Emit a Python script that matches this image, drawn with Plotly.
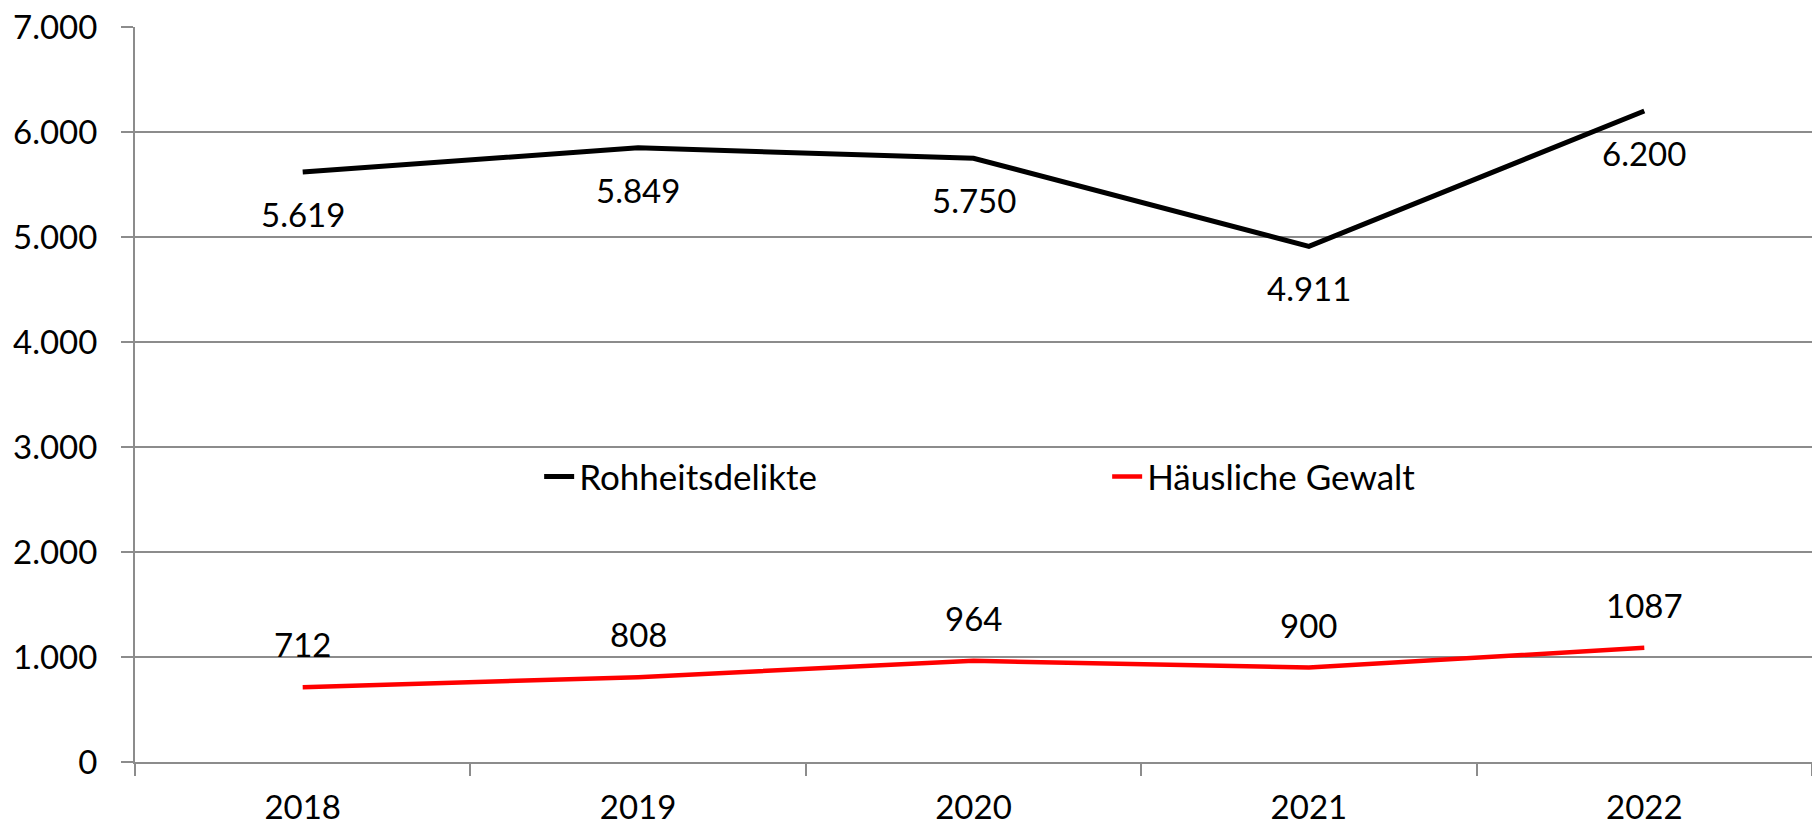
import plotly.graph_objects as go

years = ["2018", "2019", "2020", "2021", "2022"]
rohheit = [5619, 5849, 5750, 4911, 6200]
haeuslich = [712, 808, 964, 900, 1087]
rohheit_labels = ["5.619", "5.849", "5.750", "4.911", "6.200"]
haeuslich_labels = ["712", "808", "964", "900", "1087"]
y_ticks = [0, 1000, 2000, 3000, 4000, 5000, 6000, 7000]
y_ticktext = ["0", "1.000", "2.000", "3.000", "4.000", "5.000", "6.000", "7.000"]

FONT = "Lato"
FS = 33

fig = go.Figure()
fig.add_trace(go.Scatter(x=years, y=rohheit, mode="lines", name="Rohheitsdelikte",
                         line=dict(color="black", width=5)))
fig.add_trace(go.Scatter(x=years, y=haeuslich, mode="lines", name="Häusliche Gewalt",
                         line=dict(color="#ff0000", width=4.5)))

for i, (y, t) in enumerate(zip(rohheit, rohheit_labels)):
    fig.add_annotation(x=i, y=y, xref="x", yref="y", text=t, showarrow=False, yshift=-42,
                       font=dict(family=FONT, size=FS, color="black"))
for i, (y, t) in enumerate(zip(haeuslich, haeuslich_labels)):
    fig.add_annotation(x=i, y=y, xref="x", yref="y", text=t, showarrow=False, yshift=43,
                       font=dict(family=FONT, size=FS, color="black"))

fig.update_layout(
    width=1812, height=827,
    margin=dict(l=135, r=0, t=27, b=65),
    paper_bgcolor="white", plot_bgcolor="white",
    font=dict(family=FONT, size=FS, color="black"),
    showlegend=True,
    legend=dict(orientation="h", x=0.241, y=0.388, xanchor="left", yanchor="middle",
                entrywidth=523, font=dict(family=FONT, size=35, color="black"),
                bgcolor="rgba(0,0,0,0)"),
)
fig.update_xaxes(
    type="category", tickson="boundaries", ticks="outside", ticklen=12,
    tickcolor="#8c8c8c", tickwidth=2, showline=True, linecolor="#8c8c8c", linewidth=2,
    showgrid=False, range=[-0.5, 4.5], ticklabelstandoff=15, automargin=False,
    ticklabeloverflow="allow",
    tickfont=dict(family=FONT, size=FS, color="black"),
)
fig.update_yaxes(
    range=[0, 7000], tickvals=y_ticks, ticktext=y_ticktext, ticks="outside", ticklen=12,
    tickcolor="#8c8c8c", tickwidth=2, showline=True, linecolor="#8c8c8c", linewidth=2,
    showgrid=True, gridcolor="#8c8c8c", gridwidth=2, zeroline=False, automargin=False,
    ticklabeloverflow="allow",
    ticklabelstandoff=17, tickfont=dict(family=FONT, size=FS, color="black"),
)

fig.write_html(
    "out.html",
    config={"displayModeBar": False},
    post_script="document.body.style.margin='0';document.body.style.overflow='hidden';",
)
